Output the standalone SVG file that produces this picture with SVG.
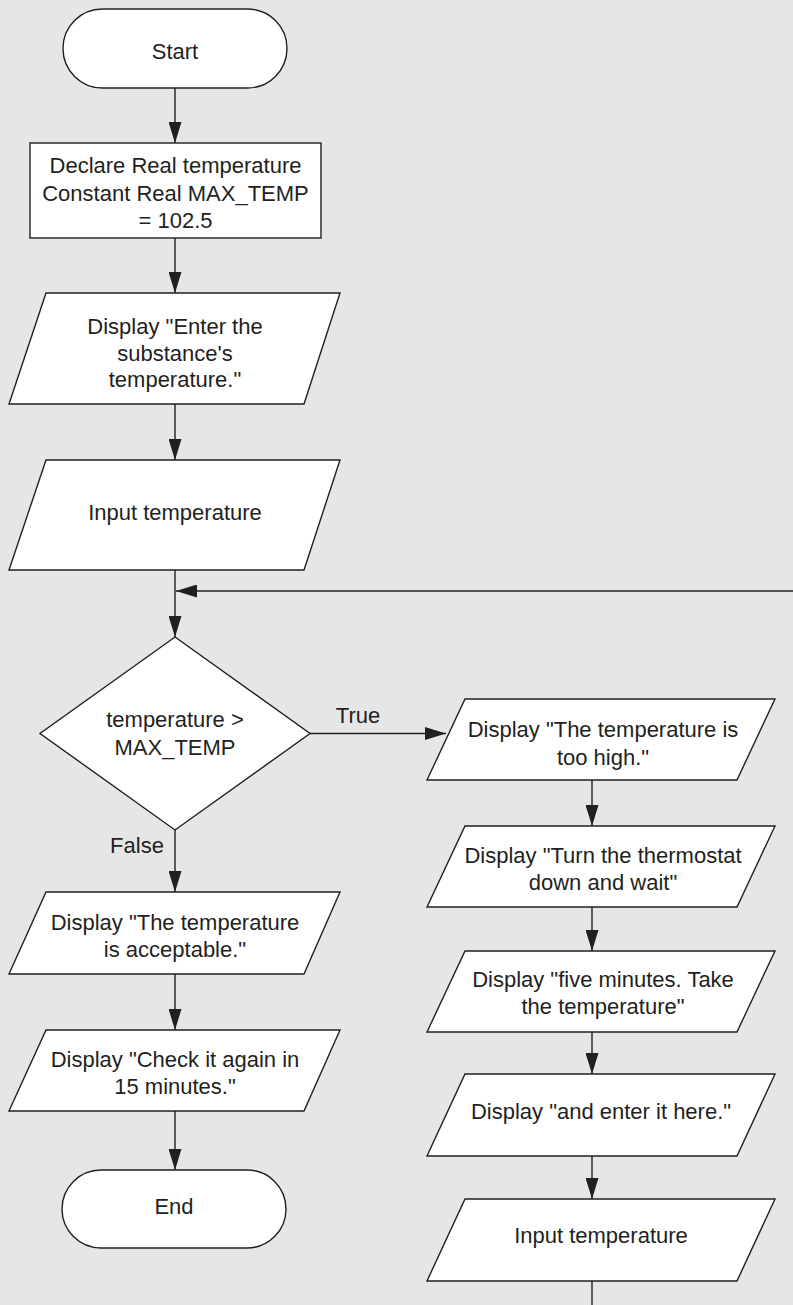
<svg xmlns="http://www.w3.org/2000/svg" width="793" height="1305" viewBox="0 0 793 1305">
<defs>
<style>
.shape{fill:#ffffff;stroke:#231f20;stroke-width:1.4}
.conn{fill:none;stroke:#231f20;stroke-width:1.4}
text{font-family:"Liberation Sans",Arial,Helvetica,sans-serif;font-size:22px;fill:#231f20;text-anchor:middle}
</style>
<marker id="ah" markerWidth="21" markerHeight="13" refX="21" refY="6.5" orient="auto" markerUnits="userSpaceOnUse">
<path d="M0,0 L21,6.5 L0,13 z" fill="#231f20"/>
</marker>
</defs>
<rect x="0" y="0" width="793" height="1305" fill="#e6e6e6"/>

<g id="connectors">
<line class="conn" x1="175" y1="88" x2="175" y2="143" marker-end="url(#ah)"/>
<line class="conn" x1="175" y1="238" x2="175" y2="293" marker-end="url(#ah)"/>
<line class="conn" x1="175" y1="404" x2="175" y2="460" marker-end="url(#ah)"/>
<line class="conn" x1="175" y1="570" x2="175" y2="637" marker-end="url(#ah)"/>
<line class="conn" x1="793" y1="591" x2="176" y2="591" marker-end="url(#ah)"/>
<line class="conn" x1="310" y1="733.5" x2="446" y2="733.5" marker-end="url(#ah)"/>
<line class="conn" x1="175" y1="830" x2="175" y2="892" marker-end="url(#ah)"/>
<line class="conn" x1="175" y1="974" x2="175" y2="1030" marker-end="url(#ah)"/>
<line class="conn" x1="175" y1="1111" x2="175" y2="1170" marker-end="url(#ah)"/>
<line class="conn" x1="592" y1="780" x2="592" y2="826" marker-end="url(#ah)"/>
<line class="conn" x1="592" y1="907" x2="592" y2="951" marker-end="url(#ah)"/>
<line class="conn" x1="592" y1="1032" x2="592" y2="1074" marker-end="url(#ah)"/>
<line class="conn" x1="592" y1="1156" x2="592" y2="1199" marker-end="url(#ah)"/>
<line class="conn" x1="592" y1="1281" x2="592" y2="1305"/>
<text x="358" y="723">True</text>
<text x="137" y="853">False</text>
</g>

<g id="start">
<rect class="shape" x="63" y="9" width="224" height="79" rx="39.5" ry="39.5"/>
<text x="175" y="59">Start</text>
</g>

<g id="declare">
<rect class="shape" x="30" y="143" width="291" height="95"/>
<text x="175.5" y="173">Declare Real temperature</text>
<text x="175.5" y="201">Constant Real MAX_TEMP</text>
<text x="175.5" y="228">= 102.5</text>
</g>

<g id="display-enter">
<polygon class="shape" points="46,293 340,293 304,404 9,404"/>
<text x="175" y="334">Display "Enter the</text>
<text x="175" y="361">substance's</text>
<text x="175" y="387">temperature."</text>
</g>

<g id="input-1">
<polygon class="shape" points="46,460 340,460 304,570 9,570"/>
<text x="175" y="520">Input temperature</text>
</g>

<g id="decision">
<polygon class="shape" points="175,637 310,733.5 175,830 40,733.5"/>
<text x="175" y="727">temperature &gt;</text>
<text x="175" y="755">MAX_TEMP</text>
</g>

<g id="display-acceptable">
<polygon class="shape" points="46,892 340,892 304,974 9,974"/>
<text x="175" y="930">Display "The temperature</text>
<text x="175" y="957">is acceptable."</text>
</g>

<g id="display-check">
<polygon class="shape" points="46,1030 340,1030 304,1111 9,1111"/>
<text x="175" y="1067">Display "Check it again in</text>
<text x="175" y="1094">15 minutes."</text>
</g>

<g id="end">
<rect class="shape" x="62" y="1170" width="224" height="78" rx="39" ry="39"/>
<text x="174" y="1214">End</text>
</g>

<g id="display-too-high">
<polygon class="shape" points="465,699 775,699 737,780 427,780"/>
<text x="603" y="737">Display "The temperature is</text>
<text x="603" y="765">too high."</text>
</g>

<g id="display-turn">
<polygon class="shape" points="465,826 775,826 737,907 427,907"/>
<text x="603" y="863">Display "Turn the thermostat</text>
<text x="603" y="890">down and wait"</text>
</g>

<g id="display-five">
<polygon class="shape" points="465,951 775,951 737,1032 427,1032"/>
<text x="603" y="987">Display "five minutes. Take</text>
<text x="603" y="1014">the temperature"</text>
</g>

<g id="display-enter-here">
<polygon class="shape" points="465,1074 775,1074 737,1156 427,1156"/>
<text x="601" y="1119">Display "and enter it here."</text>
</g>

<g id="input-2">
<polygon class="shape" points="465,1199 775,1199 737,1281 427,1281"/>
<text x="601" y="1243">Input temperature</text>
</g>
</svg>
